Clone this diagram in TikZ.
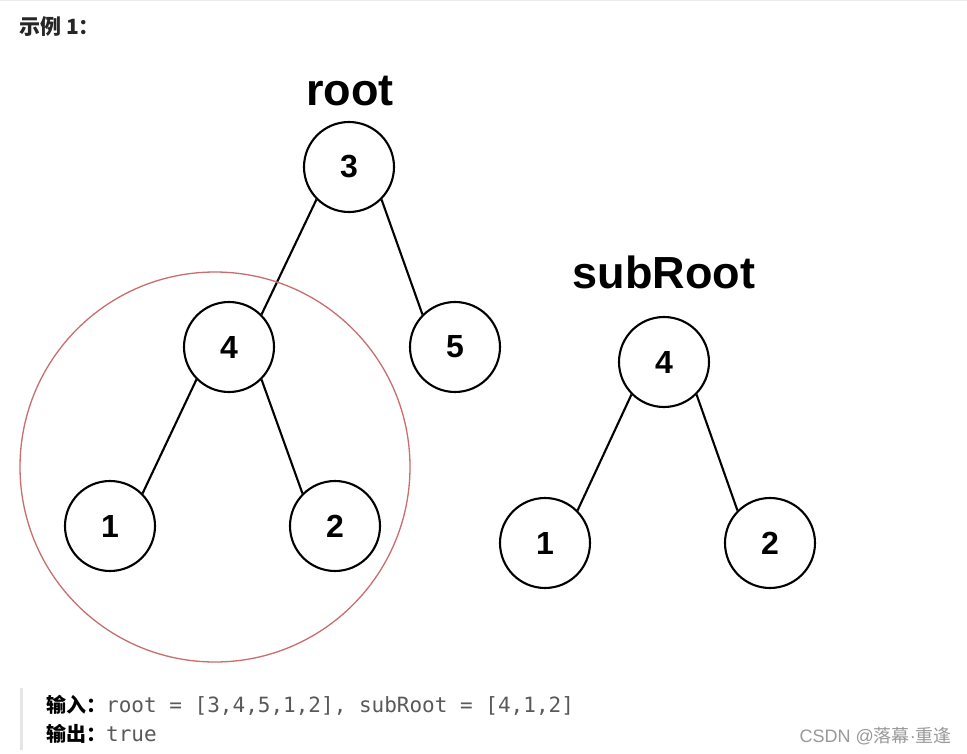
\documentclass[tikz,border=0pt]{standalone}
\usepackage{fontspec}
\setmainfont{Liberation Sans}
\setmonofont{DejaVu Sans Mono}
\newfontfamily\cjk{Noto Sans CJK SC}
\begin{document}
\begin{tikzpicture}[x=1pt,y=-1pt,
  tnode/.style={circle,draw=black,line width=2.1pt,minimum size=90pt,inner sep=0pt,font=\fontsize{32}{32}\selectfont\bfseries},
  tedge/.style={draw=black,line width=2.1pt},
  tlabel/.style={font=\fontsize{45}{45}\selectfont\bfseries},
  ]
\useasboundingbox[fill=white] (0,0) rectangle (967,754);
\draw[black!8,line width=1pt] (0,0.5) -- (967,0.5);
\node[anchor=west,inner sep=0pt,font=\cjk\fontsize{21}{21}\selectfont\bfseries,text=black!85] (hdr) at (19,27) {示例 1：};
% left tree
\node[tlabel] (rootlbl) at (350,91) {root};
\node[tnode] (n3) at (349,167) {3};
\node[tnode] (n4) at (229,347) {4};
\node[tnode] (n5) at (455,347) {5};
\node[tnode] (n1) at (110,526) {1};
\node[tnode] (n2) at (335,526) {2};
\draw[tedge] (n3.south west) -- (n4.north east);
\draw[tedge] (n3.south east) -- (n5.north west);
\draw[tedge] (n4.south west) -- (n1.north east);
\draw[tedge] (n4.south east) -- (n2.north west);
\node[circle,draw={rgb,255:red,200;green,110;blue,110},line width=1.3pt,minimum size=390pt,inner sep=0pt] (hl) at (215,467) {};
% right tree
\node[tlabel] (sublbl) at (664,272) {subRoot};
\node[tnode] (m4) at (664,362) {4};
\node[tnode] (m1) at (545,543) {1};
\node[tnode] (m2) at (770,543) {2};
\draw[tedge] (m4.south west) -- (m1.north east);
\draw[tedge] (m4.south east) -- (m2.north west);
% bottom
\coordinate (bt) at (21,688);
\coordinate (bb) at (21,750);
\draw[black!10,line width=3pt] (bt) -- (bb);
\node[anchor=west,inner sep=0pt] (in) at (46,705) {{\cjk\fontsize{20}{20}\selectfont\bfseries 输入：}{\ttfamily\fontsize{21}{21}\selectfont\color{black!65}root = [3,4,5,1,2], subRoot = [4,1,2]}};
\node[anchor=west,inner sep=0pt] (out) at (46,734) {{\cjk\fontsize{20}{20}\selectfont\bfseries 输出：}{\ttfamily\fontsize{21}{21}\selectfont\color{black!65}true}};
\node[anchor=east,inner sep=0pt,text=black!40,font=\fontsize{18}{18}\selectfont] (wm) at (952,736) {CSDN @{\cjk 落幕}·{\cjk 重逢}};
\end{tikzpicture}
\end{document}
